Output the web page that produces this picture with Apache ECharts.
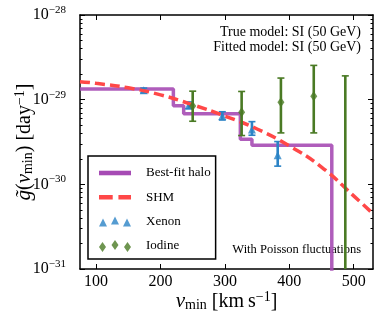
<!DOCTYPE html>
<html><head><meta charset="utf-8">
<script src="https://cdn.jsdelivr.net/npm/echarts@6/dist/echarts.min.js"></script>
<style>html,body{margin:0;padding:0;background:#fff}#c{width:380px;height:317px}</style>
</head><body><div id="c"></div>
<script>
const xMin = 75, xMax = 530;
const xTicks = [100, 200, 300, 400, 500];
const yMinExp = -31, yMaxExp = -28;   // y axis spans 1e-31 .. 1e-28 (log scale)
const haloEdges = [75, 220, 236, 324, 342, 466];
const haloValues = [1.34e-29, 8.5e-30, 6.8e-30, 3.4e-30, 2.9e-30, 1e-33];
const shmV = [75, 100, 150, 200, 250, 300, 350, 400, 450, 500, 530];
const shmG = [1.63e-29, 1.56e-29, 1.38e-29, 1.14e-29, 8.7e-30, 6.4e-30, 4.5e-30, 2.85e-30, 1.6e-30, 7.3e-31, 4.5e-31];
const xenonV = [174, 244, 296, 342, 382];
const xenonG = [1.29e-29, 8.6e-30, 6.4e-30, 4.45e-30, 2.2e-30];
const xenonLo = [1.2e-29, 7.8e-30, 5.75e-30, 3.8e-30, 1.64e-30];
const xenonHi = [1.37e-29, 9.4e-30, 7.2e-30, 5.5e-30, 3.2e-30];
const iodineV = [250, 326, 387, 438, 487];
const iodineG = [8.4e-30, 7.1e-30, 9.3e-30, 1.1e-29, null];
const iodineLo = [5.56e-30, 3.77e-30, 4.05e-30, 4.05e-30, 1e-33];
const iodineHi = [1.26e-29, 1.25e-29, 1.8e-29, 2.54e-29, 1.91e-29];
const seriesNames = ['Best-fit halo', 'SHM', 'Xenon', 'Iodine'];

const FONT = 'Liberation Serif';
const C_HALO = '#a64bb4', C_SHM = '#ff4848', C_XE = '#2b83c6', C_IO = '#4a7a24';
const L = v => (v === null ? null : Math.log10(v));

const minorTicks = [];
for (let e = yMinExp; e < yMaxExp; e++) { for (let m = 2; m <= 9; m++) minorTicks.push(e + Math.log10(m)); }

const chart = echarts.init(document.getElementById('c'), null, {renderer: 'canvas'});

function errBar(color) {
  return function (params, api) {
    const x = api.value(0);
    const p1 = api.coord([x, api.value(1)]);
    const p2 = api.coord([x, api.value(2)]);
    const w = 3.5;
    return {
      type: 'group',
      children: [
        {type: 'line', shape: {x1: p1[0], y1: p1[1], x2: p2[0], y2: p2[1]}, style: {stroke: color, lineWidth: 2.6}},
        {type: 'line', shape: {x1: p1[0] - w, y1: p1[1], x2: p1[0] + w, y2: p1[1]}, style: {stroke: color, lineWidth: 1.6}},
        {type: 'line', shape: {x1: p2[0] - w, y1: p2[1], x2: p2[0] + w, y2: p2[1]}, style: {stroke: color, lineWidth: 1.6}}
      ]
    };
  };
}

function yAxisDef(pos, opts) {
  return Object.assign({
    type: 'value', min: yMinExp, max: yMaxExp, interval: 1, position: pos,
    axisLine: {show: true, onZero: false, lineStyle: {color: '#000', width: 1.5}},
    splitLine: {show: false},
    axisLabel: {show: false},
    axisTick: {show: true, inside: true, length: 5, lineStyle: {color: '#000', width: 1}}
  }, opts);
}

const nameRich = {
  it: {fontFamily: FONT, fontSize: 21, fontStyle: 'italic', color: '#000'},
  sub: {fontFamily: FONT, fontSize: 14, color: '#000', padding: [7, 0, 0, 0]},
  sup: {fontFamily: FONT, fontSize: 14, color: '#000', padding: [0, 0, 9, 0]}
};

const option = {
  animation: false,
  backgroundColor: '#fff',
  grid: {left: 80, right: 7, top: 15, bottom: 48, show: false, outerBoundsMode: 'none', containLabel: false},
  xAxis: [
    {
      type: 'value', min: xMin, max: xMax, position: 'bottom',
      axisLine: {show: true, onZero: false, lineStyle: {color: '#000', width: 1.5}},
      splitLine: {show: false},
      axisTick: {show: true, inside: true, length: 5, lineStyle: {color: '#000'}, customValues: xTicks},
      axisLabel: {show: true, customValues: xTicks, fontFamily: FONT, fontSize: 16, color: '#000', margin: 5},
      name: '{it|v}{sub|min} [km\u2009s{sup|\u22121}]',
      nameLocation: 'middle', nameGap: 21, nameMoveOverlap: false,
      nameTextStyle: {fontFamily: FONT, fontSize: 20, color: '#000', rich: nameRich}
    },
    {
      type: 'value', min: xMin, max: xMax, position: 'top',
      axisLine: {show: true, onZero: false, lineStyle: {color: '#000', width: 1.5}},
      splitLine: {show: false},
      axisTick: {show: true, inside: true, length: 5, lineStyle: {color: '#000'}, customValues: xTicks},
      axisLabel: {show: false}
    }
  ],
  yAxis: [
    yAxisDef('left', {
      axisLabel: {
        show: true, margin: 14, color: '#000',
        formatter: function (v) {
          return '{b|10}{s|\u2212' + Math.abs(Math.round(v)) + '}';
        },
        rich: {
          b: {fontFamily: FONT, fontSize: 16, color: '#000'},
          s: {fontFamily: FONT, fontSize: 11, color: '#000', padding: [0, 0, 10, 0]}
        }
      },
      name: '{it|g\u0303}({it|v}{sub|min}) [day{sup|\u22121}]',
      nameLocation: 'middle', nameGap: 44, nameMoveOverlap: false,
      nameTextStyle: {fontFamily: FONT, fontSize: 20, color: '#000', rich: nameRich}
    }),
    yAxisDef('right', {}),
    yAxisDef('left', {axisLine: {show: false}, axisTick: {show: true, inside: true, length: 2.5, lineStyle: {color: '#000'}, customValues: minorTicks}}),
    yAxisDef('right', {axisLine: {show: false}, axisTick: {show: true, inside: true, length: 2.5, lineStyle: {color: '#000'}, customValues: minorTicks}})
  ],
  legend: {
    orient: 'vertical', left: 88, top: 156,
    padding: [10, 5, 6, 11],
    borderColor: '#000', borderWidth: 1.5, borderRadius: 0,
    backgroundColor: '#fff',
    itemWidth: 32, itemHeight: 14, itemGap: 10.3,
    textStyle: {fontFamily: FONT, fontSize: 13, color: '#000', lineHeight: 14, padding: [0, 0, 0, 10]},
    selectedMode: false,
    data: [
      {name: seriesNames[0], icon: 'path://M0,0h28v4h-28z', itemStyle: {color: C_HALO}},
      {name: seriesNames[1], icon: 'path://M0,0h12v4h-12z M17,0h11v4h-11z', itemStyle: {color: C_SHM}},
      {name: seriesNames[2], icon: 'path://M0,10L4,2L8,10Z M12,8L16,0L20,8Z M24,10L28,2L32,10Z', itemStyle: {color: C_XE}},
      {name: seriesNames[3], icon: 'path://M3.5,2L7,7L3.5,12L0,7Z M16,0L19.5,5L16,10L12.5,5Z M28.5,2L32,7L28.5,12L25,7Z', itemStyle: {color: C_IO}}
    ]
  },
  graphic: [
    {type: 'text', right: 380 - 361, top: 25, style: {text: 'True model: SI (50 GeV)', fontFamily: FONT, fontSize: 14, fill: '#000'}},
    {type: 'text', right: 380 - 361, top: 40, style: {text: 'Fitted model: SI (50 GeV)', fontFamily: FONT, fontSize: 14, fill: '#000'}},
    {type: 'text', right: 380 - 361, top: 243, style: {text: 'With Poisson fluctuations', fontFamily: FONT, fontSize: 12.5, fill: '#000'}}
  ],
  series: [
    {
      name: seriesNames[0], type: 'line', step: 'end', z: 2,
      data: haloEdges.map((v, i) => [v, L(haloValues[i])]),
      symbol: 'none', clip: true,
      lineStyle: {color: C_HALO, width: 3.5, opacity: 0.9},
      itemStyle: {color: C_HALO}
    },
    {
      name: 'xenonErr', type: 'custom', z: 3, clip: true,
      data: xenonV.map((v, i) => [v, L(xenonLo[i]), L(xenonHi[i])]),
      renderItem: errBar(C_XE)
    },
    {
      name: seriesNames[2], type: 'scatter', z: 3,
      data: xenonV.map((v, i) => [v, L(xenonG[i])]),
      symbol: 'triangle', symbolSize: [8, 8],
      itemStyle: {color: C_XE}
    },
    {
      name: seriesNames[1], type: 'line', smooth: true, z: 4,
      data: shmV.map((v, i) => [v, L(shmG[i])]),
      symbol: 'none', clip: true,
      lineStyle: {color: C_SHM, width: 3.5, type: [10, 5]},
      itemStyle: {color: C_SHM}
    },
    {
      name: 'iodineErr', type: 'custom', z: 5, clip: true,
      data: iodineV.map((v, i) => [v, L(iodineLo[i]), L(iodineHi[i])]),
      renderItem: errBar(C_IO)
    },
    {
      name: seriesNames[3], type: 'scatter', z: 5,
      data: iodineV.map((v, i) => [v, L(iodineG[i])]).filter(d => d[1] !== null),
      symbol: 'diamond', symbolSize: [7, 10],
      itemStyle: {color: C_IO}
    }
  ]
};
chart.setOption(option);
</script>
</body></html>
